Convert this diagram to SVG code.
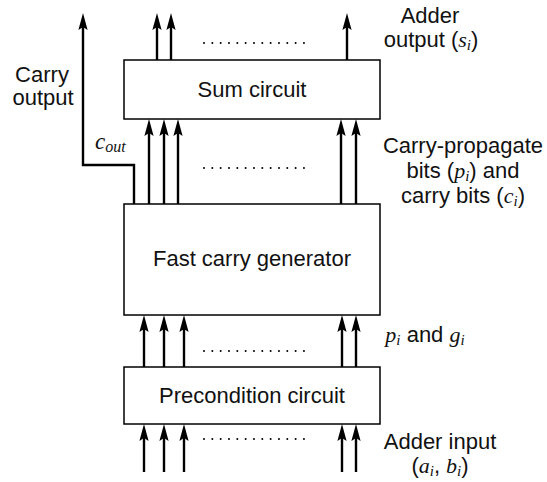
<svg xmlns="http://www.w3.org/2000/svg" width="547" height="482" viewBox="0 0 547 482">
<style>
.box{fill:#fff;stroke:#000;stroke-width:1.5}
.bl{font-family:"Liberation Sans",Arial,sans-serif;font-size:22px;fill:#111;text-anchor:middle}
.lb{font-family:"Liberation Sans",Arial,sans-serif;font-size:22px;fill:#111;text-anchor:middle}
.m{font-family:"Liberation Serif","DejaVu Serif",serif;font-style:italic}
.w{fill:none;stroke:#000;stroke-width:2.4;marker-end:url(#ah)}
.dots{fill:none;stroke:#000;stroke-width:2;stroke-linecap:round;stroke-dasharray:0 8.33}
</style>
<defs>
<marker id="ah" markerUnits="userSpaceOnUse" orient="auto" overflow="visible" refX="0" refY="0" markerWidth="20" markerHeight="20">
<path d="M10,0 L-7,-4.6 L-4,0 L-7,4.6 Z" fill="#000"/>
</marker>
</defs>
<rect width="547" height="482" fill="#fff"/>
<g id="connectors">
<line class="w" x1="157" y1="60" x2="157" y2="23"/>
<line class="w" x1="171" y1="60" x2="171" y2="23"/>
<line class="w" x1="347" y1="60" x2="347" y2="23"/>
<path class="w" d="M134,204 V165 H83 V23"/>
<line class="w" x1="149" y1="204" x2="149" y2="129"/>
<line class="w" x1="164" y1="204" x2="164" y2="129"/>
<line class="w" x1="178" y1="204" x2="178" y2="129"/>
<line class="w" x1="341" y1="204" x2="341" y2="129"/>
<line class="w" x1="356" y1="204" x2="356" y2="129"/>
<line class="w" x1="144" y1="367" x2="144" y2="325"/>
<line class="w" x1="164" y1="367" x2="164" y2="325"/>
<line class="w" x1="184" y1="367" x2="184" y2="325"/>
<line class="w" x1="342" y1="367" x2="342" y2="325"/>
<line class="w" x1="356" y1="367" x2="356" y2="325"/>
<line class="w" x1="144" y1="472" x2="144" y2="434"/>
<line class="w" x1="164" y1="472" x2="164" y2="434"/>
<line class="w" x1="184" y1="472" x2="184" y2="434"/>
<line class="w" x1="342" y1="472" x2="342" y2="434"/>
<line class="w" x1="356" y1="472" x2="356" y2="434"/>
<path class="dots" d="M204,43 H305 M204,168 H305 M204,351 H305 M204,439 H305"/>
</g>
<g id="sum">
<rect class="box" x="124" y="60" width="256" height="59"/>
<text class="bl" x="252" y="97">Sum circuit</text>
</g>
<g id="fcg">
<rect class="box" x="124" y="204" width="256" height="111"/>
<text class="bl" x="252" y="266">Fast carry generator</text>
</g>
<g id="prec">
<rect class="box" x="124" y="367" width="256" height="57"/>
<text class="bl" x="252" y="403">Precondition circuit</text>
</g>
<g id="labels">
<text class="lb" x="430" y="23">Adder</text>
<text class="lb" x="431" y="47">output (<tspan class="m">s</tspan><tspan class="m" font-size="15" dy="3">i</tspan><tspan dy="-3">)</tspan></text>
<text class="lb" x="42" y="82">Carry</text>
<text class="lb" x="43" y="105">output</text>
<text x="95" y="149" font-family="Liberation Serif,serif" font-style="italic" font-size="23" fill="#111">c<tspan font-size="16" dy="3">out</tspan></text>
<text class="lb" x="463" y="153">Carry-propagate</text>
<text class="lb" x="463" y="178">bits (<tspan class="m">p</tspan><tspan class="m" font-size="15" dy="3">i</tspan><tspan dy="-3">) and</tspan></text>
<text class="lb" x="463" y="203">carry bits (<tspan class="m">c</tspan><tspan class="m" font-size="15" dy="3">i</tspan><tspan dy="-3">)</tspan></text>
<text class="lb" x="425" y="342"><tspan class="m">p</tspan><tspan class="m" font-size="15" dy="3">i</tspan><tspan dy="-3"> and </tspan><tspan class="m">g</tspan><tspan class="m" font-size="15" dy="3">i</tspan></text>
<text class="lb" x="440" y="449">Adder input</text>
<text class="lb" x="440" y="473">(<tspan class="m">a</tspan><tspan class="m" font-size="15" dy="3">i</tspan><tspan dy="-3">, </tspan><tspan class="m">b</tspan><tspan class="m" font-size="15" dy="3">i</tspan><tspan dy="-3">)</tspan></text>
</g>
</svg>
